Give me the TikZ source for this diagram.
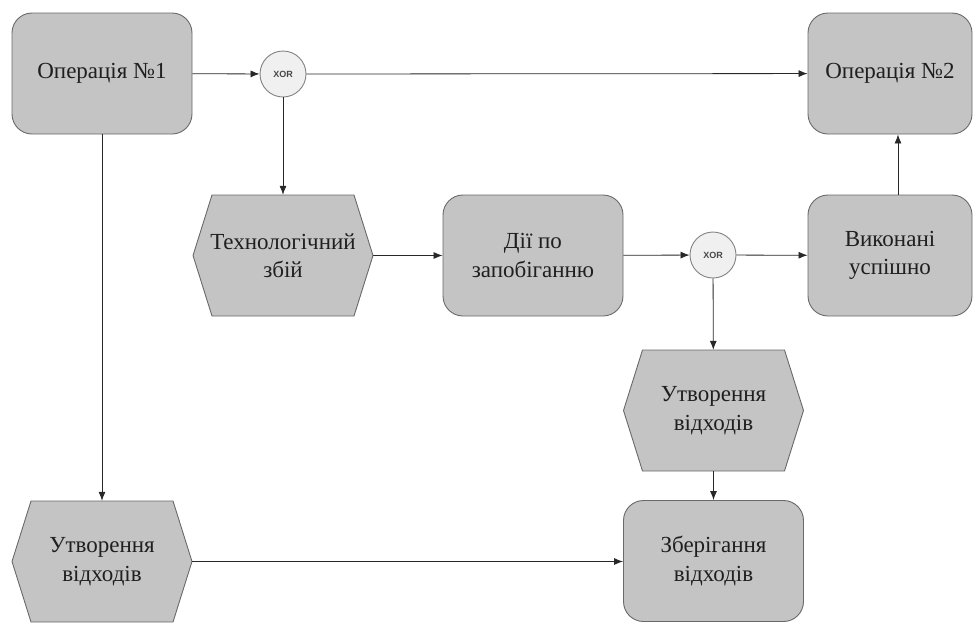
\documentclass[tikz,border=0pt]{standalone}
\usepackage{fontspec}
\setmainfont{Liberation Serif}
\newfontfamily\gatefont{Liberation Sans}
\usetikzlibrary{arrows.meta,calc}

\definecolor{boxfill}{RGB}{196,196,196}
\definecolor{boxedge}{RGB}{105,105,105}
\definecolor{gatefill}{RGB}{240,240,240}
\definecolor{gateedge}{RGB}{130,130,130}
\definecolor{wire}{RGB}{40,40,40}

\tikzset{
  x=1pt, y=-1pt,
  proc/.style={rectangle, rounded corners=20pt, draw=boxedge, fill=boxfill,
    line width=0.9pt, minimum width=180pt, minimum height=121pt, inner sep=0pt,
    align=center, text=black!88, font=\rmfamily\fontsize{23}{28.5}\selectfont},
  evlabel/.style={rectangle, minimum width=180pt, minimum height=121pt, inner sep=0pt,
    align=center, text=black!88, font=\rmfamily\fontsize{23}{28.5}\selectfont},
  hexbg/.style={draw=boxedge, fill=boxfill, line width=0.9pt, line join=miter},
  gate/.style={circle, draw=gateedge, fill=gatefill, line width=0.9pt,
    minimum size=46pt, inner sep=0pt, text=black!72,
    font=\gatefont\bfseries\fontsize{9}{10}\selectfont},
  flow/.style={draw=wire, line width=0.8pt, -{Latex[length=9pt,width=7pt]}},
}

% event hexagon: name, centre x, centre y, text (180 x 120, tips inset 19)
\newcommand\eventhex[4]{%
  \path[hexbg] (#2-90,#3) -- (#2-71,#3-60.5) -- (#2+71,#3-60.5) -- (#2+90,#3)
    -- (#2+71,#3+60.5) -- (#2-71,#3+60.5) -- cycle;
  \node[evlabel] (#1) at (#2,#3) {#4};
}

\begin{document}
\begin{tikzpicture}
\useasboundingbox (0,0) rectangle (975,622);

% functions
\node[proc] (op1) at (102,73.5) {Операція №1};
\node[proc, minimum width=164pt] (op2) at (890,73.5) {Операція №2};
\node[proc] (prev) at (533,255.5) {Дії по\\запобіганню};
\node[proc, minimum width=164pt] (done) at (890,255.5) {Виконані\\успішно};
\node[proc] (store) at (713.5,561) {Зберігання\\відходів};

% events
\eventhex{fail}{283}{255.5}{Технологічний\\збій}
\eventhex{waste}{713.5}{410.5}{Утворення\\відходів}
\eventhex{wasteL}{102}{561.5}{Утворення\\відходів}

% connectors
\node[gate] (x1) at (283,74) {XOR};
\node[gate] (x2) at (713,255) {XOR};

% flow
\draw[flow] (op1) -- (x1);
\draw[flow] (x1) -- (op2);
\draw[flow] (x1) -- (fail);
\draw[flow] (op1.south) -- (wasteL.north);
\draw[flow] (fail) -- (prev);
\draw[flow] (prev) -- (x2);
\draw[flow] (x2) -- (done);
\draw[flow] ([xshift=8pt]done.north) -- ([xshift=8pt]op2.south);
\draw[flow] (x2) -- (waste);
\draw[flow] (waste) -- (store);
\draw[flow] (wasteL) -- (store.west |- wasteL.east);
\end{tikzpicture}
\end{document}
